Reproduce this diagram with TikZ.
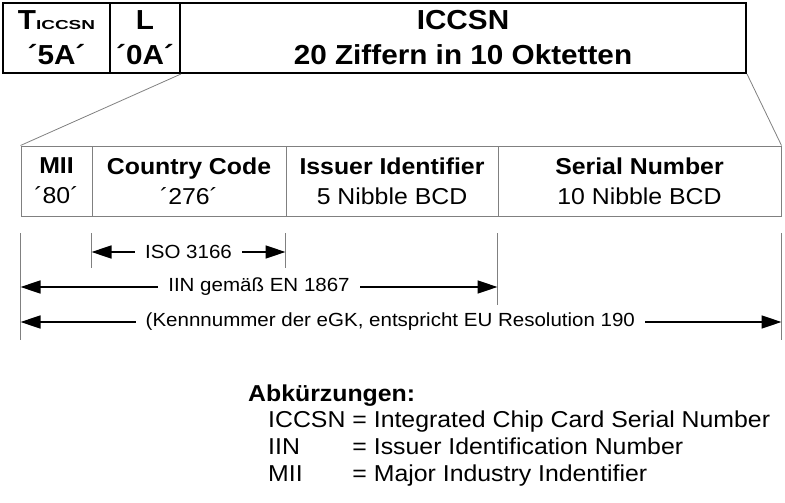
\documentclass[tikz,border=0pt]{standalone}
\usepackage{fontspec}
\setmainfont{Liberation Sans}[FakeStretch=1.08]
\usetikzlibrary{arrows.meta}

\begin{document}
\begin{tikzpicture}[x=1pt, y=-1pt,
  % Cell styles
  topcell/.style={rectangle, draw=black, line width=2pt, minimum height=70pt, inner sep=0pt, align=center, font=\fontsize{27.5}{35}\selectfont\bfseries},
  fieldcell/.style={rectangle, draw=gray, line width=1pt, minimum height=70pt, inner sep=0pt, align=center, font=\fontsize{23}{30}\selectfont},
  % Line styles
  fanline/.style={draw=gray, line width=0.8pt},
  extline/.style={draw=gray, line width=1pt},
  spanarrow/.style={line width=1.5pt, {Triangle[length=20pt,width=13pt]}-{Triangle[length=20pt,width=13pt]}},
  spanlabel/.style={fill=white, inner xsep=10pt, inner ysep=1pt, font=\fontsize{19}{19}\selectfont},
  abbrtext/.style={anchor=base west, inner sep=0pt, font=\fontsize{23}{27}\selectfont}
]
\useasboundingbox (0,0) rectangle (785,503);

% Layer 1: Top data object
\node[topcell, minimum width=107pt] (toptag) at (56.5,38) {T\scalebox{1.35}[1]{\fontsize{13}{13}\selectfont ICCSN}\\´5A´};
\node[topcell, minimum width=70pt] (toplen) at (145,38) {L\\´0A´};
\node[topcell, minimum width=566pt] (topvalue) at (463,38) {ICCSN\\20 Ziffern in 10 Oktetten};

% Layer 2: Fields of the value
\node[fieldcell, minimum width=71pt] (mii) at (56.5,181) {\textbf{MII}\\´80´};
\node[fieldcell, minimum width=194pt] (country) at (189,181) {\textbf{Country Code}\\´276´};
\node[fieldcell, minimum width=212pt] (issuer) at (392,181) {\textbf{Issuer Identifier}\\5 Nibble BCD};
\node[fieldcell, minimum width=283pt] (serial) at (639.5,181) {\textbf{Serial Number}\\10 Nibble BCD};

% Layer 3: Zoom lines from value to fields
\draw[fanline] (toplen.south east) -- (mii.north west);
\draw[fanline] (topvalue.south east) -- (serial.north east);

% Layer 4: Extension lines below the fields
\foreach \cell/\name/\bot in {mii.south west/ea/340, country.south west/eb/268, issuer.south west/ec/268, serial.south west/ed/305, serial.south east/ee/340} {
  \coordinate (\name top) at (\cell |- 0,233);
  \coordinate (\name bot) at (\cell |- 0,\bot);
  \draw[extline] (\name top) -- (\name bot);
}

% Layer 5: Span arrows
\coordinate (isoL) at (ebtop |- 0,252);
\coordinate (isoR) at (ectop |- 0,252);
\coordinate (iinL) at (eatop |- 0,287);
\coordinate (iinR) at (edtop |- 0,287);
\coordinate (egkL) at (eatop |- 0,322);
\coordinate (egkR) at (eetop |- 0,322);
\draw[spanarrow] (isoL) -- node[spanlabel] (isolabel) {ISO 3166} (isoR);
\draw[spanarrow] (iinL) -- node[spanlabel] (iinlabel) {IIN gemäß EN 1867} (iinR);
\draw[spanarrow] (egkL) -- node[spanlabel, pos=0.486] (egklabel) {(Kennnummer der eGK, entspricht EU Resolution 190} (egkR);

% Layer 6: Abbreviations
\node[abbrtext, font=\fontsize{23}{27}\selectfont\bfseries] (abbrhead) at (248,401) {Abkürzungen:};
\node[abbrtext] (abbrlist) at (268,427) {\begin{tabular}[t]{@{}l@{\hspace{7pt}}l@{}}
ICCSN & = Integrated Chip Card Serial Number\\
IIN & = Issuer Identification Number\\
MII & = Major Industry Indentifier
\end{tabular}};

\end{tikzpicture}
\end{document}
